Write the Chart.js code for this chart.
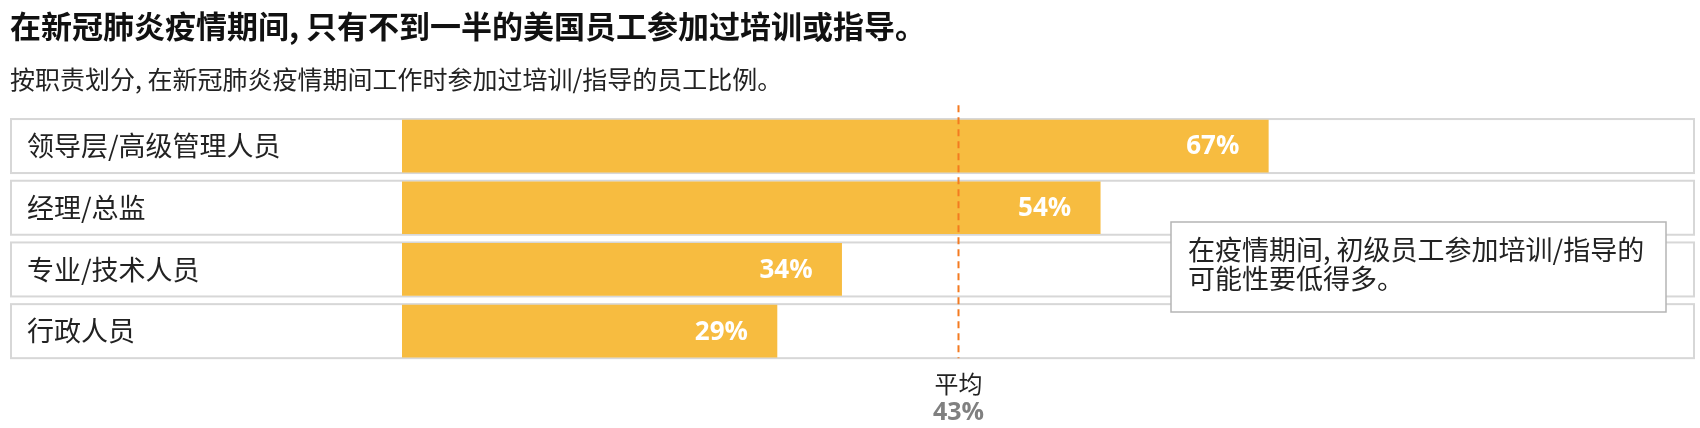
<!DOCTYPE html>
<html>
<head>
<meta charset="utf-8">
<script src="https://cdn.jsdelivr.net/npm/chart.js@4/dist/chart.umd.min.js"></script>
<style>
  html, body { margin: 0; padding: 0; background: #fff; }
  #wrap { width: 1700px; height: 428px; position: relative; }
</style>
</head>
<body>
<div id="wrap"><canvas id="chart"></canvas></div>
<script>
// Chart data
const titleText = '在新冠肺炎疫情期间, 只有不到一半的美国员工参加过培训或指导。';
const subtitleText = '按职责划分, 在新冠肺炎疫情期间工作时参加过培训/指导的员工比例。';
const categories = ['领导层/高级管理人员', '经理/总监', '专业/技术人员', '行政人员'];
const values = [67, 54, 34, 29];
const averageValue = 43;
const averageLabel = '平均';
const noteLines = ['在疫情期间, 初级员工参加培训/指导的', '可能性要低得多。'];

const CJK = '"Noto Sans CJK SC", "Noto Sans", sans-serif';
const NUM = '"Open Sans", "Noto Sans", sans-serif';
const barColor = '#f7bc40';

// Row boxes + category labels behind the bars, then values / average / note on top
const rowPlugin = {
    id: 'rowPlugin',
    beforeDatasetsDraw(chart) {
        const ctx = chart.ctx;
        const y = chart.scales.y;
        const right = chart.chartArea.right;
        const left = y.left;
        ctx.save();
        categories.forEach((label, i) => {
            const yc = y.getPixelForValue(i);
            ctx.fillStyle = '#fff';
            ctx.fillRect(left, yc - 28, right - left, 56);
            ctx.strokeStyle = '#d7d7d7';
            ctx.lineWidth = 2;
            ctx.strokeRect(left + 1, yc - 27, right - left - 2, 54);
            ctx.fillStyle = '#222';
            ctx.font = '27px ' + CJK;
            ctx.textAlign = 'left';
            ctx.textBaseline = 'middle';
            ctx.fillText(label, left + 17, yc);
        });
        ctx.restore();
    },
    afterDatasetsDraw(chart) {
        const ctx = chart.ctx;
        const x = chart.scales.x;
        const y = chart.scales.y;
        ctx.save();

        // value labels inside bars
        ctx.fillStyle = '#fff';
        ctx.font = 'bold 26px ' + NUM;
        ctx.textAlign = 'right';
        ctx.textBaseline = 'middle';
        values.forEach((v, i) => {
            ctx.fillText(v + '%', x.getPixelForValue(v) - 29, y.getPixelForValue(i) + 1);
        });

        // average dashed line
        const ax = Math.round(x.getPixelForValue(averageValue)) + 0.5;
        ctx.strokeStyle = '#f47b20';
        ctx.lineWidth = 2;
        ctx.setLineDash([7, 5]);
        ctx.beginPath();
        ctx.moveTo(ax, chart.chartArea.top - 10);
        ctx.lineTo(ax, y.getPixelForValue(categories.length - 1) + 27);
        ctx.stroke();
        ctx.setLineDash([]);

        // average label
        ctx.textAlign = 'center';
        ctx.fillStyle = '#222';
        ctx.font = '24px ' + CJK;
        ctx.fillText(averageLabel, ax, 384);
        ctx.fillStyle = '#808080';
        ctx.font = 'bold 25px ' + NUM;
        ctx.fillText(averageValue + '%', ax, 413);

        // note box
        const bx = 1171, by = 222, bw = 495, bh = 90;
        ctx.fillStyle = '#fff';
        ctx.fillRect(bx, by, bw, bh);
        ctx.strokeStyle = '#b5b5b5';
        ctx.lineWidth = 1.5;
        ctx.strokeRect(bx, by, bw, bh);
        ctx.fillStyle = '#222';
        ctx.font = '27px ' + CJK;
        ctx.textAlign = 'left';
        noteLines.forEach((line, i) => {
            ctx.fillText(line, bx + 17, by + 28 + i * 29);
        });

        ctx.restore();
    }
};

new Chart(document.getElementById('chart'), {
    type: 'bar',
    data: {
        labels: categories,
        datasets: [{
            data: values,
            backgroundColor: barColor,
            borderWidth: 0,
            barThickness: 52
        }]
    },
    options: {
        indexAxis: 'y',
        responsive: true,
        maintainAspectRatio: false,
        animation: false,
        layout: { padding: { left: 10, right: 5, top: 0, bottom: 66 } },
        plugins: {
            legend: { display: false },
            tooltip: { enabled: false },
            title: {
                display: true,
                text: titleText,
                align: 'start',
                color: '#111',
                font: { family: CJK, size: 31, weight: 'bold', lineHeight: 1.2 },
                padding: { top: 8, bottom: 10 }
            },
            subtitle: {
                display: true,
                text: subtitleText,
                align: 'start',
                color: '#222',
                font: { family: CJK, size: 25, lineHeight: 1.2 },
                padding: { top: 9, bottom: 21 }
            }
        },
        scales: {
            x: { display: false, min: 0, max: 100 },
            y: {
                display: true,
                grid: { display: false },
                border: { display: false },
                ticks: { display: false },
                afterFit(scale) { scale.width = 392; }
            }
        }
    },
    plugins: [rowPlugin]
});
</script>
</body>
</html>
